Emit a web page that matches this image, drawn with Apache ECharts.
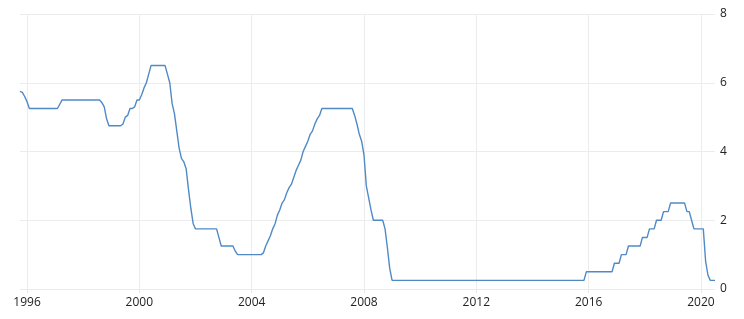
<!DOCTYPE html>
<html>
<head>
<meta charset="utf-8">
<script src="https://cdn.jsdelivr.net/npm/echarts@6/dist/echarts.min.js"></script>
<style>html,body{margin:0;padding:0;background:#fff;}#c{width:744px;height:319px;}</style>
</head>
<body>
<div id="c"></div>
<script>
// Monthly rate (%), first entry = Oct 1995
const startYear = 1995, startMonth = 9; // October (0-based)
const r1995 = [5.75, 5.72, 5.6];
const r1996 = [5.45, 5.25, 5.25, 5.25, 5.25, 5.25, 5.25, 5.25, 5.25, 5.25, 5.25, 5.25];
const r1997 = [5.25, 5.25, 5.375, 5.5, 5.5, 5.5, 5.5, 5.5, 5.5, 5.5, 5.5, 5.5];
const r1998 = [5.5, 5.5, 5.5, 5.5, 5.5, 5.5, 5.5, 5.5, 5.42, 5.3, 4.95, 4.75];
const r1999 = [4.75, 4.75, 4.75, 4.75, 4.75, 4.8, 5.0, 5.05, 5.25, 5.25, 5.3, 5.5];
const r2000 = [5.5, 5.65, 5.85, 6.0, 6.25, 6.5, 6.5, 6.5, 6.5, 6.5, 6.5, 6.5];
const r2001 = [6.25, 6.0, 5.4, 5.1, 4.6, 4.1, 3.8, 3.7, 3.5, 2.9, 2.35, 1.9];
const r2002 = [1.75, 1.75, 1.75, 1.75, 1.75, 1.75, 1.75, 1.75, 1.75, 1.75, 1.5, 1.25];
const r2003 = [1.25, 1.25, 1.25, 1.25, 1.25, 1.1, 1.0, 1.0, 1.0, 1.0, 1.0, 1.0];
const r2004 = [1.0, 1.0, 1.0, 1.0, 1.0, 1.05, 1.25, 1.4, 1.55, 1.75, 1.9, 2.15];
const r2005 = [2.3, 2.5, 2.6, 2.8, 2.95, 3.05, 3.25, 3.45, 3.6, 3.75, 4.0, 4.15];
const r2006 = [4.3, 4.5, 4.6, 4.8, 4.95, 5.05, 5.25, 5.25, 5.25, 5.25, 5.25, 5.25];
const r2007 = [5.25, 5.25, 5.25, 5.25, 5.25, 5.25, 5.25, 5.25, 5.05, 4.8, 4.5, 4.3];
const r2008 = [3.9, 3.0, 2.65, 2.3, 2.0, 2.0, 2.0, 2.0, 2.0, 1.75, 1.2, 0.6];
const r2009 = [0.25, 0.25, 0.25, 0.25, 0.25, 0.25, 0.25, 0.25, 0.25, 0.25, 0.25, 0.25];
const r2010 = [0.25, 0.25, 0.25, 0.25, 0.25, 0.25, 0.25, 0.25, 0.25, 0.25, 0.25, 0.25];
const r2011 = [0.25, 0.25, 0.25, 0.25, 0.25, 0.25, 0.25, 0.25, 0.25, 0.25, 0.25, 0.25];
const r2012 = [0.25, 0.25, 0.25, 0.25, 0.25, 0.25, 0.25, 0.25, 0.25, 0.25, 0.25, 0.25];
const r2013 = [0.25, 0.25, 0.25, 0.25, 0.25, 0.25, 0.25, 0.25, 0.25, 0.25, 0.25, 0.25];
const r2014 = [0.25, 0.25, 0.25, 0.25, 0.25, 0.25, 0.25, 0.25, 0.25, 0.25, 0.25, 0.25];
const r2015 = [0.25, 0.25, 0.25, 0.25, 0.25, 0.25, 0.25, 0.25, 0.25, 0.25, 0.25, 0.5];
const r2016 = [0.5, 0.5, 0.5, 0.5, 0.5, 0.5, 0.5, 0.5, 0.5, 0.5, 0.5, 0.75];
const r2017 = [0.75, 0.75, 1.0, 1.0, 1.0, 1.25, 1.25, 1.25, 1.25, 1.25, 1.25, 1.5];
const r2018 = [1.5, 1.5, 1.75, 1.75, 1.75, 2.0, 2.0, 2.0, 2.25, 2.25, 2.25, 2.5];
const r2019 = [2.5, 2.5, 2.5, 2.5, 2.5, 2.5, 2.25, 2.25, 2.0, 1.75, 1.75, 1.75];
const r2020 = [1.75, 1.75, 0.8, 0.4, 0.25, 0.25, 0.25];

const rates = [].concat(r1995, r1996, r1997, r1998, r1999, r2000, r2001, r2002, r2003,
  r2004, r2005, r2006, r2007, r2008, r2009, r2010, r2011, r2012, r2013, r2014, r2015,
  r2016, r2017, r2018, r2019, r2020);

const xTickYears = [1996, 2000, 2004, 2008, 2012, 2016, 2020];
const yTicks = [0, 2, 4, 6, 8];

// x as fractional year (year + month/12)
const seriesData = rates.map((v, i) => [startYear + (startMonth + i) / 12, v]);

const chart = echarts.init(document.getElementById('c'), null, {renderer: 'canvas'});
chart.setOption({
  animation: false,
  backgroundColor: '#ffffff',
  grid: {left: 20, right: 29, top: 14, bottom: 30, containLabel: false},
  xAxis: {
    type: 'value',
    min: startYear + startMonth / 12,
    max: startYear + (startMonth + rates.length - 1) / 12,
    axisLine: {show: false},
    axisTick: {show: true, customValues: xTickYears, length: 4, lineStyle: {color: '#e6e6e6'}},
    splitLine: {show: true, lineStyle: {color: '#ececec', width: 1}},
    axisLabel: {
      customValues: xTickYears,
      formatter: v => String(Math.round(v)),
      color: '#222', fontSize: 12, fontFamily: 'Open Sans', margin: 8
    }
  },
  yAxis: {
    type: 'value',
    position: 'right',
    min: yTicks[0], max: yTicks[yTicks.length - 1], interval: 2,
    axisLine: {show: false},
    axisTick: {show: false},
    splitLine: {show: true, lineStyle: {color: '#ececec', width: 1}},
    axisLabel: {color: '#222', fontSize: 12, fontFamily: 'Open Sans', margin: 5}
  },
  series: [{
    type: 'line',
    data: seriesData,
    showSymbol: false,
    smooth: false,
    lineStyle: {color: '#4f8ac6', width: 1.4},
    itemStyle: {color: '#4f8ac6'}
  }]
});
</script>
</body>
</html>
